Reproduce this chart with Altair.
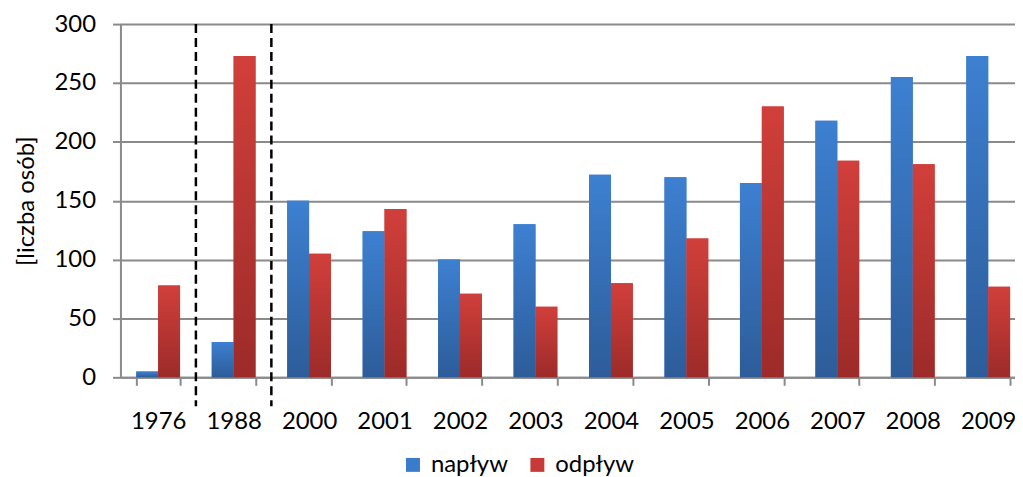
import altair as alt
import pandas as pd

years = ["1976", "1988", "2000", "2001", "2002", "2003", "2004", "2005", "2006", "2007", "2008", "2009"]
series = ["napływ", "odpływ"]
naplyw = [5, 30, 150, 124, 100, 130, 172, 170, 165, 218, 255, 273]
odplyw = [78, 273, 105, 143, 71, 60, 80, 118, 230, 184, 181, 77]
boundaries = [1, 2]  # dashed separators after the 1st and 2nd category

rows = []
for i, y in enumerate(years):
    rows.append({"year": y, "series": series[0], "value": naplyw[i]})
    rows.append({"year": y, "series": series[1], "value": odplyw[i]})
df = pd.DataFrame(rows)

FONT = "Lato"
FS = 24
GRID = "#8a8a8a"
XRANGE = [0, 910]  # the category axis runs past the right edge of the picture

blue_grad = alt.Gradient(
    gradient="linear", x1=0, x2=0, y1=0, y2=1,
    stops=[alt.GradientStop(color="#3D80D1", offset=0),
           alt.GradientStop(color="#2D5C99", offset=1)])
red_grad = alt.Gradient(
    gradient="linear", x1=0, x2=0, y1=0, y2=1,
    stops=[alt.GradientStop(color="#D13F3B", offset=0),
           alt.GradientStop(color="#9C2B29", offset=1)])

base = alt.Chart(df).encode(
    x=alt.X("year:N", sort=years, title=None,
            scale=alt.Scale(paddingInner=0.42, paddingOuter=0.21, range=XRANGE),
            axis=alt.Axis(labelAngle=0, tickBand="extent", tickSize=8, tickColor=GRID,
                          tickWidth=2, domainColor=GRID, domainWidth=2,
                          labelFont=FONT, labelFontSize=FS, labelColor="black",
                          labelPadding=24, grid=False)),
    xOffset=alt.XOffset("series:N", sort=series, scale=alt.Scale(domain=series)),
    y=alt.Y("value:Q", scale=alt.Scale(domain=[0, 300]), title="[liczba osób]",
            axis=alt.Axis(values=[0, 50, 100, 150, 200, 250, 300], tickSize=8,
                          tickColor=GRID, tickWidth=2, domainColor=GRID, domainWidth=2,
                          gridColor=GRID, gridWidth=2, labelFont=FONT, labelFontSize=FS,
                          labelColor="black", labelPadding=17, titleFont=FONT,
                          titleFontSize=FS, titleFontWeight="normal", titleColor="black",
                          titlePadding=16)),
)

legend_layer = base.mark_bar().encode(
    color=alt.Color("series:N", sort=series,
                    scale=alt.Scale(domain=series, range=["#3A7BCB", "#C63A37"]),
                    legend=alt.Legend(title=None, orient="none", legendX=282, legendY=431,
                                      direction="horizontal", symbolType="square",
                                      symbolSize=196, symbolStrokeWidth=0,
                                      labelFont=FONT, labelFontSize=FS, labelColor="black",
                                      columnPadding=17, padding=0, labelOffset=6))
)
blue_layer = base.mark_bar(color=blue_grad).transform_filter(alt.datum.series == series[0])
red_layer = base.mark_bar(color=red_grad).transform_filter(alt.datum.series == series[1])

bars = alt.layer(legend_layer, blue_layer, red_layer)

rules = alt.Chart(pd.DataFrame({"b": boundaries})).mark_rule(
    color="black", strokeWidth=2.5, strokeDash=[9, 5], clip=False
).encode(
    x=alt.X("b:Q", scale=alt.Scale(domain=[0, len(years)], range=XRANGE), axis=None),
    y=alt.value(0), y2=alt.value(384),
)

chart = alt.layer(bars, rules).resolve_scale(x="independent").properties(
    width=899, height=355,
    padding={"left": 113, "top": 15, "right": 0, "bottom": 99},
    autosize=alt.AutoSizeParams(type="none"),
).configure_view(stroke=None)

chart.save("out.html", embed_options={"renderer": "svg", "actions": False})
